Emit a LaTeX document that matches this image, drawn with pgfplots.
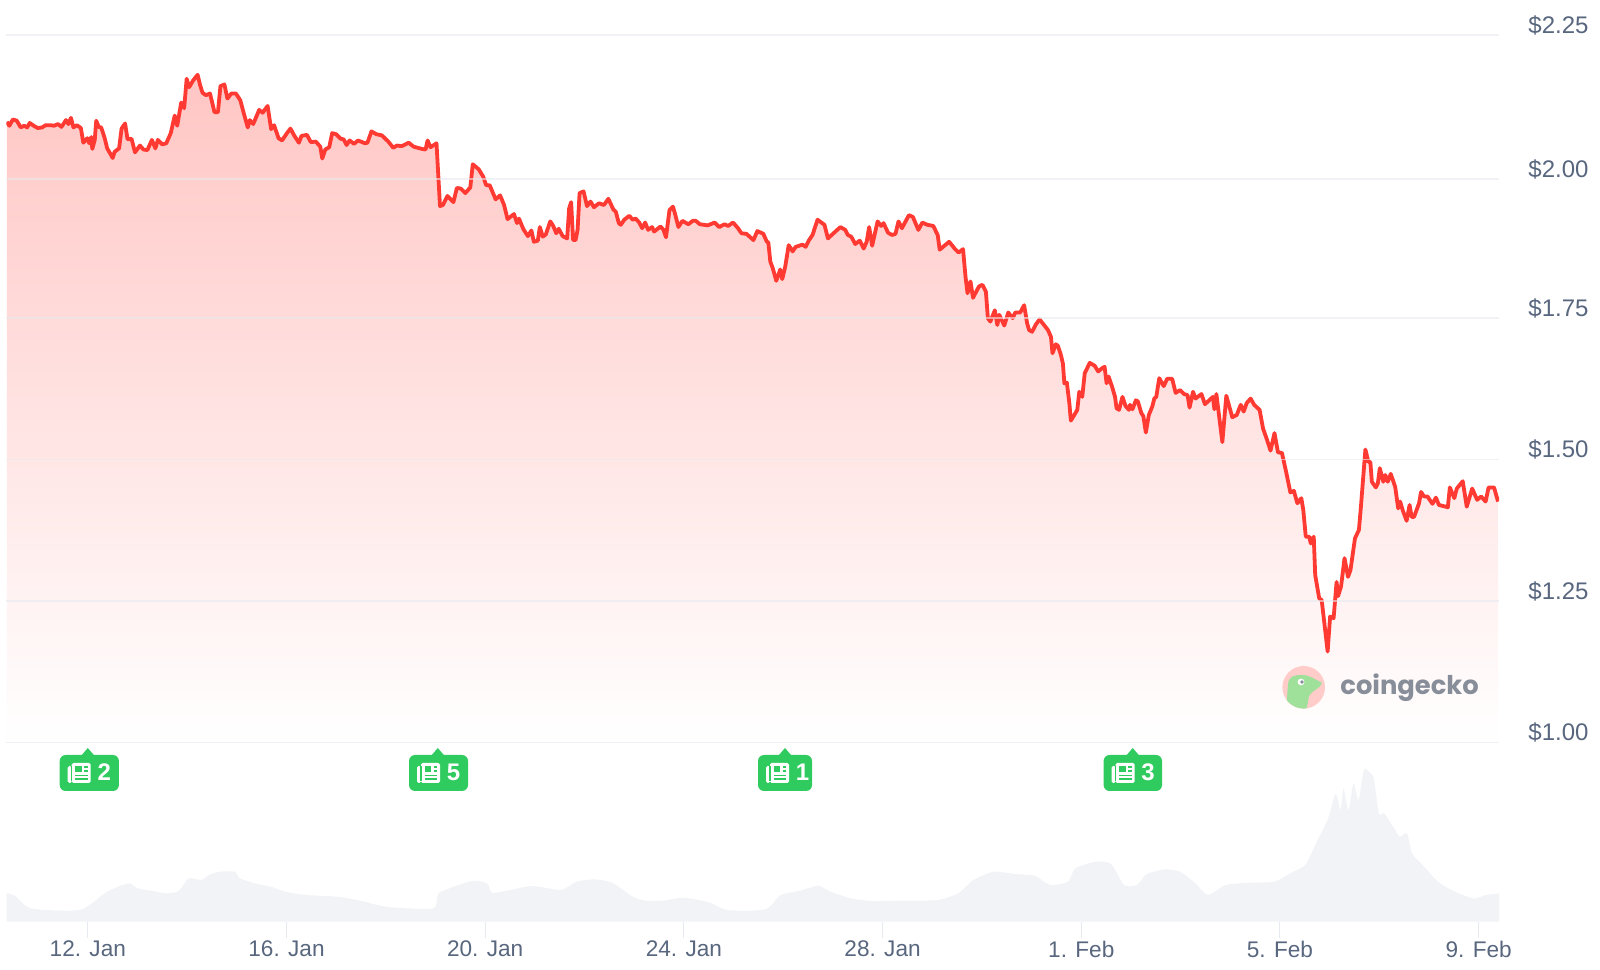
\documentclass[border=0pt]{standalone}
\usepackage{fontspec}
\setmainfont{Liberation Sans}
\newfontfamily\logofont{Poppins}
\usepackage{pgfplots}
\usepackage{pgfplotstable}
\pgfplotsset{compat=1.18}
\definecolor{gridc}{HTML}{E6E9EF}
\definecolor{tickc}{HTML}{58667E}
\definecolor{volc}{HTML}{F1F3F6}
\definecolor{linec}{HTML}{FF3A33}
\definecolor{filltop}{HTML}{FFC6C4}
\definecolor{badgec}{HTML}{2FCB5F}
\definecolor{logoc}{HTML}{878D99}

%% price, x in days counted from 1 Jan (1 Feb = 32)
\pgfplotstableread{
day price
10.37 2.097
10.42 2.090
10.49 2.101
10.57 2.099
10.65 2.087
10.72 2.090
10.78 2.087
10.83 2.095
10.91 2.090
10.99 2.086
11.08 2.087
11.15 2.091
11.25 2.091
11.32 2.090
11.40 2.093
11.47 2.088
11.56 2.100
11.61 2.093
11.66 2.104
11.71 2.087
11.78 2.091
11.86 2.086
11.91 2.060
11.99 2.068
12.03 2.059
12.07 2.070
12.09 2.049
12.14 2.065
12.17 2.099
12.22 2.088
12.27 2.087
12.34 2.068
12.39 2.050
12.45 2.041
12.50 2.033
12.54 2.044
12.63 2.050
12.68 2.085
12.75 2.094
12.80 2.066
12.88 2.067
12.95 2.043
13.05 2.055
13.12 2.048
13.20 2.047
13.29 2.065
13.36 2.050
13.41 2.065
13.50 2.057
13.58 2.059
13.67 2.077
13.75 2.108
13.80 2.090
13.88 2.131
13.94 2.121
13.99 2.173
14.04 2.158
14.12 2.170
14.21 2.180
14.26 2.162
14.31 2.148
14.38 2.144
14.46 2.147
14.55 2.114
14.62 2.114
14.67 2.160
14.75 2.163
14.81 2.138
14.89 2.147
14.98 2.147
15.07 2.135
15.14 2.112
15.22 2.087
15.26 2.100
15.33 2.093
15.45 2.118
15.52 2.113
15.62 2.125
15.69 2.084
15.75 2.091
15.84 2.068
15.91 2.064
16.01 2.077
16.08 2.085
16.16 2.072
16.25 2.060
16.30 2.072
16.41 2.074
16.49 2.061
16.59 2.062
16.68 2.053
16.72 2.032
16.78 2.048
16.86 2.052
16.92 2.077
17.00 2.075
17.09 2.067
17.15 2.066
17.21 2.056
17.27 2.064
17.36 2.058
17.44 2.064
17.58 2.059
17.63 2.060
17.71 2.080
17.81 2.075
17.92 2.073
18.05 2.062
18.15 2.051
18.22 2.055
18.32 2.054
18.46 2.060
18.56 2.053
18.73 2.049
18.80 2.048
18.84 2.064
18.90 2.052
19.02 2.059
19.09 1.948
19.15 1.950
19.24 1.966
19.36 1.955
19.43 1.980
19.51 1.979
19.60 1.971
19.70 1.981
19.75 2.022
19.87 2.013
19.96 2.000
20.02 1.985
20.09 1.985
20.21 1.960
20.30 1.967
20.38 1.950
20.45 1.925
20.58 1.934
20.64 1.918
20.68 1.926
20.77 1.907
20.86 1.895
20.93 1.905
20.98 1.885
21.06 1.887
21.10 1.911
21.16 1.894
21.22 1.898
21.31 1.921
21.37 1.913
21.43 1.900
21.48 1.908
21.56 1.895
21.65 1.891
21.69 1.944
21.73 1.955
21.77 1.888
21.82 1.888
21.86 1.906
21.90 1.971
21.98 1.974
22.05 1.948
22.12 1.956
22.19 1.946
22.29 1.953
22.39 1.950
22.48 1.961
22.58 1.942
22.63 1.938
22.69 1.918
22.73 1.915
22.80 1.924
22.90 1.931
22.97 1.924
23.03 1.926
23.10 1.919
23.16 1.909
23.22 1.919
23.28 1.906
23.36 1.911
23.40 1.903
23.53 1.912
23.59 1.906
23.64 1.893
23.71 1.941
23.78 1.947
23.82 1.935
23.89 1.911
23.97 1.922
24.09 1.916
24.18 1.922
24.24 1.922
24.32 1.916
24.48 1.914
24.62 1.919
24.71 1.911
24.82 1.916
24.89 1.913
24.99 1.919
25.09 1.909
25.16 1.900
25.26 1.899
25.40 1.888
25.48 1.904
25.60 1.899
25.67 1.885
25.70 1.884
25.74 1.850
25.79 1.838
25.86 1.816
25.94 1.836
25.98 1.819
26.04 1.841
26.11 1.879
26.19 1.868
26.25 1.876
26.39 1.880
26.45 1.876
26.52 1.888
26.59 1.897
26.69 1.924
26.83 1.915
26.90 1.891
27.00 1.899
27.15 1.911
27.25 1.906
27.30 1.897
27.37 1.894
27.45 1.881
27.54 1.887
27.62 1.873
27.68 1.885
27.73 1.911
27.79 1.878
27.90 1.921
27.97 1.913
28.02 1.918
28.11 1.901
28.19 1.897
28.26 1.899
28.32 1.921
28.39 1.909
28.53 1.932
28.61 1.929
28.72 1.906
28.80 1.919
28.90 1.915
29.02 1.913
29.11 1.897
29.15 1.871
29.34 1.885
29.45 1.873
29.53 1.866
29.62 1.872
29.67 1.823
29.71 1.794
29.77 1.815
29.82 1.786
29.94 1.806
30.01 1.809
30.08 1.797
30.12 1.750
30.17 1.744
30.26 1.764
30.31 1.738
30.35 1.756
30.45 1.737
30.53 1.760
30.62 1.750
30.67 1.760
30.77 1.760
30.85 1.773
30.91 1.741
30.95 1.729
31.01 1.726
31.08 1.738
31.16 1.748
31.25 1.738
31.33 1.729
31.39 1.717
31.42 1.688
31.49 1.704
31.53 1.701
31.59 1.685
31.63 1.670
31.66 1.635
31.71 1.636
31.76 1.600
31.79 1.569
31.86 1.579
31.92 1.588
31.96 1.620
32.02 1.611
32.07 1.653
32.11 1.660
32.17 1.671
32.27 1.666
32.34 1.656
32.44 1.663
32.47 1.664
32.51 1.635
32.55 1.647
32.62 1.629
32.68 1.611
32.71 1.591
32.76 1.588
32.83 1.611
32.89 1.595
32.96 1.588
32.98 1.597
33.03 1.589
33.10 1.605
33.14 1.603
33.21 1.582
33.25 1.577
33.30 1.548
33.36 1.579
33.43 1.594
33.47 1.608
33.51 1.611
33.57 1.644
33.66 1.630
33.73 1.643
33.83 1.643
33.90 1.618
33.99 1.623
34.07 1.616
34.14 1.614
34.18 1.592
34.25 1.620
34.30 1.608
34.42 1.616
34.49 1.598
34.65 1.611
34.68 1.589
34.72 1.616
34.84 1.531
34.92 1.613
35.04 1.575
35.13 1.579
35.21 1.597
35.27 1.585
35.33 1.600
35.41 1.608
35.48 1.597
35.59 1.588
35.66 1.555
35.74 1.535
35.81 1.516
35.89 1.547
35.96 1.513
36.04 1.512
36.13 1.476
36.21 1.442
36.28 1.445
36.35 1.423
36.43 1.432
36.47 1.411
36.52 1.364
36.59 1.364
36.62 1.352
36.68 1.364
36.71 1.296
36.79 1.255
36.84 1.252
36.96 1.161
37.01 1.223
37.08 1.220
37.14 1.284
37.17 1.259
37.23 1.276
37.30 1.326
37.37 1.293
37.42 1.305
37.51 1.361
37.59 1.376
37.63 1.417
37.72 1.518
37.78 1.496
37.82 1.496
37.85 1.461
37.93 1.451
37.97 1.458
38.01 1.485
38.08 1.461
38.12 1.473
38.17 1.461
38.23 1.475
38.32 1.452
38.38 1.414
38.42 1.426
38.47 1.411
38.55 1.392
38.61 1.420
38.65 1.399
38.70 1.399
38.80 1.423
38.84 1.443
38.90 1.435
38.97 1.435
39.07 1.422
39.14 1.433
39.20 1.420
39.38 1.416
39.42 1.451
39.51 1.432
39.56 1.449
39.68 1.462
39.76 1.417
39.87 1.449
39.97 1.429
40.05 1.435
40.14 1.426
40.20 1.451
40.31 1.451
40.39 1.426
}\pricedata

%% volume, relative height
\pgfplotstableread{
day vol
10.36 29
10.54 25.7
10.69 18.3
10.85 13.3
11.16 11.7
11.57 11
11.88 12.3
12.08 18.3
12.39 30
12.70 36.7
12.85 38.3
13.00 33.3
13.31 30.7
13.57 28.3
13.83 30.7
14.03 43.3
14.29 41.7
14.44 46.7
14.65 50
14.96 50
15.06 43.3
15.37 38.3
15.68 35
15.98 30
16.39 26.7
17.01 25
17.42 21.7
17.83 16.7
18.14 14.3
18.96 13.3
19.06 28.3
19.47 36.7
19.78 41
20.04 38.3
20.14 29
20.50 31.7
20.96 35.7
21.53 31.7
21.84 40
22.20 42.3
22.56 39
22.97 25
23.22 21
23.58 21
23.99 24
24.51 19.3
24.87 11.7
25.64 12.3
25.95 26.7
26.34 31
26.70 36
26.95 30
27.37 23.3
27.78 20.7
28.39 21
29.11 21.7
29.52 28.3
29.83 41.7
30.24 50
30.65 47.7
31.06 46
31.37 36.7
31.73 40
31.88 53.3
32.29 60
32.60 57.7
32.86 36.7
33.12 36.7
33.32 47.7
33.68 52.3
33.99 50
34.30 38.3
34.55 26.7
34.91 36.7
35.38 39
35.89 40
36.20 48.3
36.51 56.7
36.71 76.7
36.97 103.3
37.12 128.3
37.22 111.7
37.28 133.3
37.38 111.7
37.48 138.3
37.58 121.7
37.69 151.7
37.79 150
37.89 143.3
37.99 108.3
38.10 108.3
38.30 93.3
38.41 85
38.56 88.3
38.66 68.3
38.87 56.7
39.18 40
39.48 31
39.89 23.3
40.15 26.7
40.41 28.3
}\voldata

% news badge, arguments in px of the 1600x969 picture: tip x, left, right, number
\newcommand{\newsbadge}[4]{%
  \fill[badgec] (#1-6,755) -- (#1,748) -- (#1+6,755) -- cycle;
  \fill[badgec, rounded corners=3pt] (#2,755) rectangle (#3,791);
  \fill[white, rounded corners=0.8pt] (#2+8,766) rectangle (#2+12,783);
  \fill[white, rounded corners=0.8pt] (#2+12,763) rectangle (#2+31,783);
  \fill[badgec] (#2+11,766) rectangle (#2+12.5,781);
  \fill[badgec] (#2+15.5,766) rectangle (#2+22,772.5);
  \fill[badgec] (#2+24.5,766) rectangle (#2+28,768);
  \fill[badgec] (#2+24.5,770.5) rectangle (#2+28,772.5);
  \fill[badgec] (#2+15.5,775) rectangle (#2+28,776.5);
  \fill[badgec] (#2+15.5,778.5) rectangle (#2+28,780);
  \node[text=white, font=\fontsize{12}{12}\selectfont\bfseries, inner sep=0pt]
    at (#2+44.5,772.5) {#4};
}

\begin{document}
\begin{tikzpicture}[x=1pt,y=1pt]
\path[use as bounding box] (0,0) rectangle (800,484.5);

%% volume panel with the date axis
\begin{axis}[
  at={(3.25pt,23.65pt)}, anchor=south west,
  scale only axis, width=746.25pt, height=85pt,
  xmin=10.363, xmax=40.41, ymin=0, ymax=170,
  axis y line=none, axis x line*=bottom,
  axis line style={draw=none},
  xtick={12,16,20,24,28,32,36,40},
  xticklabels={12. Jan,16. Jan,20. Jan,24. Jan,28. Jan,1. Feb,5. Feb,9. Feb},
  tick align=outside, major tick length=8pt,
  x tick style={color=gridc, line width=0.5pt},
  x tick label style={font=\fontsize{11.3}{11.3}\selectfont, text=tickc,
    inner sep=0pt, yshift=-1.5pt},
]
  \addplot[fill=volc, draw=none, smooth, tension=0.4] table[x=day, y=vol] {\voldata} \closedcycle;
\end{axis}

%% price panel
\begin{axis}[
  at={(3.25pt,113.15pt)}, anchor=south west,
  scale only axis, width=746.25pt, height=353.75pt,
  xmin=10.363, xmax=40.41, ymin=1, ymax=2.25,
  hide x axis,
  axis y line*=right, axis line style={draw=none},
  ytick={1,1.25,1.5,1.75,1.996,2.25},
  yticklabels={\$1.00,\$1.25,\$1.50,\$1.75,\$2.00,\$2.25},
  major tick length=0pt,
  y tick label style={font=\fontsize{12}{12}\selectfont, text=tickc,
    anchor=west, inner sep=0pt, xshift=14.5pt, yshift=5pt},
  ymajorgrids, axis on top,
  grid style={color=gridc, line width=0.8pt, opacity=0.6},
]
  \addplot[draw=none, top color=filltop, bottom color=white]
    table[x=day, y=price] {\pricedata} -- (axis cs:40.39,1) -- (axis cs:10.37,1) -- cycle;
  \addplot[color=linec, line width=1.9pt, line join=round, no marks]
    table[x=day, y=price] {\pricedata};
\end{axis}

%% annotations in px, origin top left
\begin{scope}[shift={(0,484.5)}, x=0.5pt, y=-0.5pt]
  \newsbadge{87.8}{59.7}{118.9}{2}
  \newsbadge{437.8}{409}{468}{5}
  \newsbadge{785}{758}{812}{1}
  \newsbadge{1132.7}{1103.6}{1162}{3}
  % coingecko mark
  \fill[filltop!90!white] (1303.7,687.3) circle[radius=21.3];
  \begin{scope}
    \clip (1303.7,687.3) circle[radius=21.3];
    \fill[fill={rgb,255:red,159;green,224;blue,154}]
      (1286,712) -- (1288,684) .. controls (1289,676) and (1294,675) .. (1302,675)
      .. controls (1310,675) and (1316,680) .. (1322,683)
      .. controls (1320,689) and (1312,690) .. (1309,696) -- (1306,712) -- cycle;
  \end{scope}
  \fill[white] (1301,682) circle[radius=3.4];
  \fill[logoc] (1302,682) circle[radius=1.9];
  \node[anchor=west, inner sep=0pt, text=logoc,
    font=\logofont\bfseries\fontsize{12.9}{12.9}\selectfont] at (1340,688) {coingecko};
\end{scope}
\end{tikzpicture}
\end{document}
